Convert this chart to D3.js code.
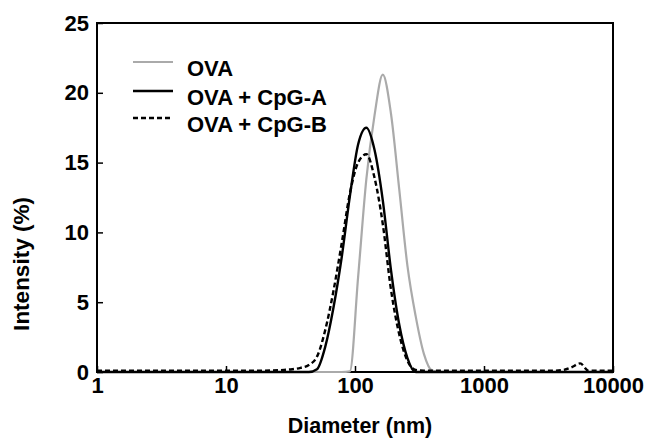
<!DOCTYPE html>
<html>
<head>
<meta charset="utf-8">
<script src="https://cdn.jsdelivr.net/npm/d3@7"></script>
<style>
  html, body { margin: 0; padding: 0; background: #fff; }
  svg { display: block; font-family: "Liberation Sans", Arial, Helvetica, sans-serif; font-weight: bold; }
</style>
</head>
<body>
<svg id="chart" width="648" height="444"></svg>
<script>
// Diameters (nm) at which intensities were read
const diameters = [1, 2, 5, 10, 20, 28.21, 32.67, 37.84, 43.82, 50.75, 58.77, 68.06, 78.82, 91.28,
  105.7, 122.4, 141.8, 164.2, 190.1, 220.2, 255.0, 295.3, 342.0, 396.1, 458.7, 531.2,
  1000, 2000, 3580, 4145, 4801, 5560, 6439, 7456, 10000];

const ova = [0, 0, 0, 0, 0, 0, 0, 0, 0, 0, 0, 0, 0, 0.05,
  6.8, 13.8, 18.4, 21.3, 18.5, 13.1, 7.6, 4.0, 1.3, 0.1, 0, 0,
  0, 0, 0, 0, 0, 0, 0, 0, 0];

const ovaCpgA = [0, 0, 0, 0, 0, 0, 0, 0, 0, 0.2, 1.8, 4.6, 8.2, 12.6,
  16.3, 17.5, 15.9, 12.3, 7.3, 3.4, 1.0, 0, 0, 0, 0, 0,
  0, 0, 0, 0, 0, 0, 0, 0, 0];

const ovaCpgB = [0.1, 0.1, 0.1, 0.1, 0.1, 0.15, 0.2, 0.3, 0.5, 1.1, 3.0, 5.8, 9.2, 12.8,
  15.0, 15.6, 13.9, 10.6, 5.9, 2.7, 0.8, 0.15, 0.1, 0.1, 0.1, 0.1,
  0.1, 0.1, 0.1, 0.15, 0.35, 0.62, 0.1, 0.1, 0.1];

const seriesNames = ["OVA", "OVA + CpG-A", "OVA + CpG-B"];
const xTicks = [1, 10, 100, 1000, 10000];
const xTickLabels = ["1", "10", "100", "1000", "10000"];
const yTicks = [0, 5, 10, 15, 20, 25];

const svg = d3.select("#chart");
const mLeft = 97, mRight = 613, mTop = 23, mBottom = 372;

const x = d3.scaleLog().domain([1, 10000]).range([mLeft, mRight]);
const y = d3.scaleLinear().domain([0, 25]).range([mBottom, mTop]);

const series = [
  { name: seriesNames[0], values: ova, color: "#aaaaaa", dash: null, width: 2.2 },
  { name: seriesNames[1], values: ovaCpgA, color: "#000", dash: null, width: 2.4 },
  { name: seriesNames[2], values: ovaCpgB, color: "#000", dash: "5,3", width: 2.4 }
];

// Frame
svg.append("rect")
  .attr("x", mLeft).attr("y", mTop)
  .attr("width", mRight - mLeft).attr("height", mBottom - mTop)
  .attr("fill", "none").attr("stroke", "#000").attr("stroke-width", 2);

const line = d3.line()
  .x((d, i) => x(diameters[i]))
  .y(d => y(d))
  .curve(d3.curveMonotoneX);

// Curves
series.forEach(s => {
  svg.append("path")
    .datum(s.values)
    .attr("d", line)
    .attr("fill", "none")
    .attr("stroke", s.color)
    .attr("stroke-width", s.width)
    .attr("stroke-dasharray", s.dash)
    .attr("stroke-linejoin", "round");
});

// Axes (ticks pointing inward)
const xAxis = d3.axisBottom(x).tickValues(xTicks).tickSizeInner(-6).tickSizeOuter(0)
  .tickFormat((d, i) => xTickLabels[i]).tickPadding(5);
const gx = svg.append("g").attr("transform", `translate(0,${mBottom})`).call(xAxis);
gx.select(".domain").remove();
gx.selectAll(".tick line").attr("stroke", "#000").attr("stroke-width", 1.5);
gx.selectAll(".tick text").attr("font-size", 22).attr("font-weight", "bold")
  .attr("font-family", "Liberation Sans, Arial, sans-serif").attr("fill", "#000");

const yAxis = d3.axisLeft(y).tickValues(yTicks).tickSizeInner(-6).tickSizeOuter(0).tickPadding(8);
const gy = svg.append("g").attr("transform", `translate(${mLeft},0)`).call(yAxis);
gy.select(".domain").remove();
gy.selectAll(".tick line").attr("stroke", "#000").attr("stroke-width", 1.5);
gy.selectAll(".tick text").attr("font-size", 22).attr("font-weight", "bold")
  .attr("font-family", "Liberation Sans, Arial, sans-serif").attr("fill", "#000");

// Axis titles
svg.append("text")
  .attr("x", 360).attr("y", 433)
  .attr("text-anchor", "middle").attr("font-size", 21.5)
  .text("Diameter (nm)");

svg.append("text")
  .attr("transform", "translate(29,264) rotate(-90)")
  .attr("text-anchor", "middle").attr("font-size", 22.5)
  .text("Intensity (%)");

// Legend
const legendRows = [68, 97, 124];
series.forEach((s, i) => {
  const ly = legendRows[i];
  svg.append("line")
    .attr("x1", 133).attr("x2", 173)
    .attr("y1", ly - 6).attr("y2", ly - 6)
    .attr("stroke", s.color).attr("stroke-width", s.width)
    .attr("stroke-dasharray", s.dash);
  svg.append("text")
    .attr("x", 187).attr("y", ly + 7.5)
    .attr("font-size", 22)
    .text(s.name);
});
</script>
</body>
</html>
